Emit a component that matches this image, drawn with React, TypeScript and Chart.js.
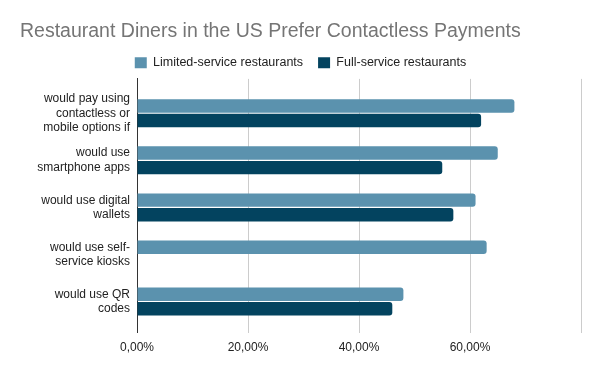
import React, { useEffect, useRef } from "react";
import { Chart, registerables } from "chart.js";

Chart.register(...registerables);

const categories: string[][] = [
  ["would pay using", "contactless or", "mobile options if"],
  ["would use", "smartphone apps"],
  ["would use digital", "wallets"],
  ["would use self-", "service kiosks"],
  ["would use QR", "codes"],
];
const limitedService: (number | null)[] = [68, 65, 61, 63, 48];
const fullService: (number | null)[] = [62, 55, 57, null, 46];
const xTicks: number[] = [0, 20, 40, 60, 80];

const FONT = "'Liberation Sans', Arial, sans-serif";

export default function App() {
  const ref = useRef<HTMLCanvasElement | null>(null);
  useEffect(() => {
    if (!ref.current) return;
    const toPoints = (arr: (number | null)[]) =>
      arr.map((v, i) => ({ x: v, y: i }));
    const chart = new Chart(ref.current, {
      type: "bar",
      data: {
        datasets: [
          {
            label: "Limited-service restaurants",
            data: toPoints(limitedService) as any,
            backgroundColor: "#5b92ae",
            borderRadius: 3,
            borderSkipped: "start",
            categoryPercentage: 0.62,
            barPercentage: 0.92,
          },
          {
            label: "Full-service restaurants",
            data: toPoints(fullService) as any,
            backgroundColor: "#03435f",
            borderRadius: 3,
            borderSkipped: "start",
            categoryPercentage: 0.62,
            barPercentage: 0.92,
          },
        ],
      },
      options: {
        indexAxis: "y",
        animation: false,
        responsive: false,
        layout: { padding: { left: 20, right: 19, top: 0, bottom: 8 } },
        plugins: {
          title: {
            display: true,
            text: "Restaurant Diners in the US Prefer Contactless Payments",
            align: "start",
            color: "#757575",
            font: { family: FONT, size: 19.5, weight: "normal" },
            padding: { top: 20, bottom: -2 },
          },
          legend: {
            display: true,
            position: "top",
            labels: {
              boxWidth: 12,
              boxHeight: 11,
              color: "#222",
              font: { family: FONT, size: 12.5 },
              padding: 15,
            },
          },
          tooltip: { enabled: false },
        },
        scales: {
          x: {
            type: "linear",
            min: 0,
            max: 80,
            afterBuildTicks: (s: any) => {
              s.ticks = xTicks.map((v) => ({ value: v }));
            },
            ticks: {
              color: "#222",
              font: { family: FONT, size: 12 },
              padding: 8,
              callback: (v: any) =>
                v === 80 ? "" : Number(v).toFixed(2).replace(".", ",") + "%",
            },
            grid: {
              color: "#cccccc",
              drawTicks: false,
            },
            border: { display: false },
          },
          y: {
            type: "linear",
            reverse: true,
            offset: false,
            min: -0.73,
            max: 4.66,
            afterBuildTicks: (s: any) => {
              s.ticks = categories.map((_, i) => ({ value: i }));
            },
            afterFit: (s: any) => {
              s.width = 117;
            },
            ticks: {
              color: "#222",
              font: { family: FONT, size: 12 },
              padding: 7,
              callback: (v: any) => categories[v] ?? "",
            },
            grid: { display: false, drawTicks: false },
            border: { display: true, color: "#333333", width: 1 },
          },
        },
      },
    });
    return () => chart.destroy();
  }, []);
  return (
    <div style={{ position: "fixed", left: 0, top: 0, width: 600, height: 371, background: "#fff" }}>
      <canvas ref={ref} width={600} height={371} style={{ width: 600, height: 371 }} />
    </div>
  );
}
